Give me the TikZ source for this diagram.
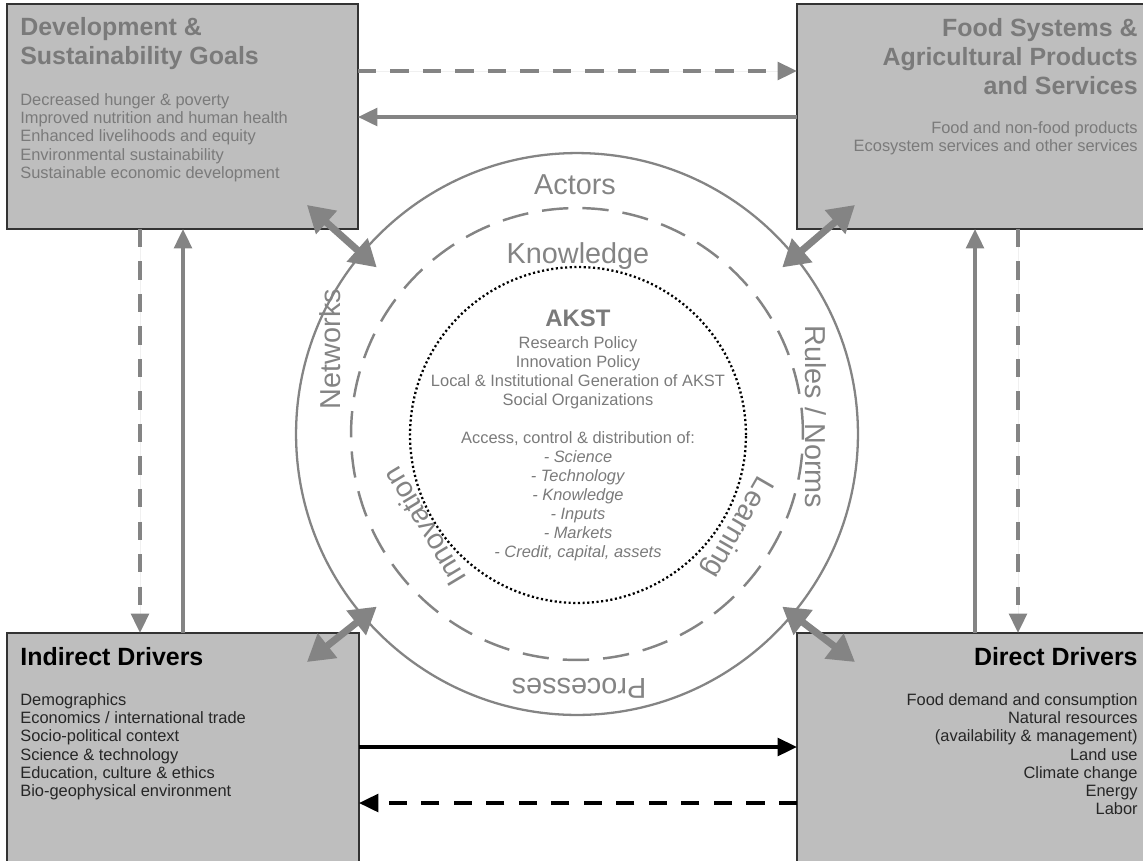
\documentclass[tikz,border=0pt]{standalone}
\usepackage{fontspec}
\setmainfont{Liberation Sans}
\usetikzlibrary{arrows.meta}

\definecolor{boxfill}{RGB}{190,190,190}
\definecolor{softgray}{RGB}{122,122,122}
\definecolor{ringgray}{RGB}{132,132,132}

\tikzset{
	area/.style={draw=black!80, line width=0.85pt, fill=boxfill, inner sep=0pt, outer sep=0pt, anchor=north west},
	areatitle/.style={inner sep=0pt, font=\bfseries\fontsize{14.2}{16.4}\selectfont},
	areatext/.style={inner sep=0pt, font=\fontsize{9.35}{10.4}\selectfont},
	ringlabel/.style={inner sep=0pt, text=ringgray, font=\fontsize{16.4}{19}\selectfont},
	coretext/.style={inner sep=0pt, text=softgray, font=\fontsize{9.35}{10.8}\selectfont, anchor=north, align=center},
	link/.style={line width=2.1pt, -{Triangle[length=11pt, width=10pt]}},
	twoway/.style={line width=4pt, draw=ringgray, {Triangle[length=15pt, width=17pt]}-{Triangle[length=15pt, width=17pt]}},
	gapdash/.style={dash pattern=on 10.5pt off 8pt},
}

\begin{document}
\begin{tikzpicture}[x=0.02cm, y=-0.02cm]
	\clip (0,0) rectangle (1143,860);

	% boxes
	\node[area, minimum width=7.02cm, minimum height=4.5cm] at (7,4) (goals) {};
	\node[area, minimum width=7.3cm, minimum height=4.5cm] at (797,4) (food) {};
	\node[area, minimum width=7.04cm, minimum height=5cm] at (7,633) (indirect) {};
	\node[area, minimum width=7.3cm, minimum height=5cm] at (797,633) (direct) {};

	\node[areatitle, text=softgray, anchor=north west, align=left] at (20,17) (goals-title) {Development \&\\Sustainability Goals};
	\node[areatext, text=softgray, anchor=north west, align=left] at (20,93) (goals-list) {Decreased hunger \& poverty\\Improved nutrition and human health\\Enhanced livelihoods and equity\\Environmental sustainability\\Sustainable economic development};

	\node[areatitle, text=softgray, anchor=north east, align=right] at (1138,18) (food-title) {Food Systems \&\\Agricultural Products\\and Services};
	\node[areatext, text=softgray, anchor=north east, align=right] at (1138,121) (food-list) {Food and non-food products\\Ecosystem services and other services};

	\node[areatitle, anchor=north west, align=left] at (20,647) (indirect-title) {Indirect Drivers};
	\node[areatext, text=black!85, anchor=north west, align=left] at (20,693) (indirect-list) {Demographics\\Economics / international trade\\Socio-political context\\Science \& technology\\Education, culture \& ethics\\Bio-geophysical environment};

	\node[areatitle, anchor=north east, align=right] at (1138,647) (direct-title) {Direct Drivers};
	\node[areatext, text=black!85, anchor=north east, align=right] at (1138,693) (direct-list) {Food demand and consumption\\Natural resources~\\(availability \& management)\\Land use\\Climate change\\Energy\\Labor};

	% rings
	\node[circle, draw=ringgray, line width=1.3pt, inner sep=0pt, outer sep=0pt, minimum size=11.24cm] at (577,434) (ring) {};
	\node[circle, draw=ringgray, line width=1.4pt, dash pattern=on 15pt off 8pt, inner sep=0pt, minimum size=9.04cm] at (577,434) (knowledge-ring) {};
	\node[circle, draw=black, line width=1.3pt, dash pattern=on 1.2pt off 1.45pt, inner sep=0pt, minimum size=6.72cm] at (578,435) (akst-ring) {};

	\node[ringlabel, anchor=base] at (575,194) (actors) {Actors};
	\node[ringlabel, anchor=base] at (578,263) (knowledge) {Knowledge};
	\node[ringlabel, rotate=90] at (330,349) (networks) {Networks};
	\node[ringlabel, rotate=-90] at (816,417) (rules) {Rules / Norms};
	\node[ringlabel, rotate=121] at (424,527) (innovation) {Innovation};
	\node[ringlabel, rotate=-120] at (737,527) (learning) {Learning};
	\node[ringlabel, rotate=180, anchor=base] at (579,678) (processes) {Processes};

	\node[inner sep=0pt, text=softgray, font=\bfseries\fontsize{13.6}{16}\selectfont, anchor=base] at (578,326) (akst) {AKST};
	\node[coretext] at (578,336) (akst-policy) {Research Policy\\Innovation Policy\\Local \& Institutional Generation of AKST\\Social Organizations};
	\node[coretext] at (578,431) (akst-access) {Access, control \& distribution of:\\\textit{- Science}\\\textit{- Technology}\\\textit{- Knowledge}\\\textit{- Inputs}\\\textit{- Markets}\\\textit{- Credit, capital, assets}};

	% flows between boxes
	\draw[link, draw=ringgray, fill=ringgray, gapdash] ([shift={(0,67)}]goals.north east) to ([shift={(0,67)}]food.north west);
	\draw[link, draw=ringgray, fill=ringgray] ([shift={(0,113)}]food.north west) to ([shift={(0,113)}]goals.north east);
	\draw[link, draw=ringgray, fill=ringgray, gapdash] ([shift={(133,0)}]goals.south west) to ([shift={(133,0)}]indirect.north west);
	\draw[link, draw=ringgray, fill=ringgray] ([shift={(176,0)}]indirect.north west) to ([shift={(176,0)}]goals.south west);
	\draw[link, draw=ringgray, fill=ringgray] ([shift={(178,0)}]direct.north west) to ([shift={(178,0)}]food.south west);
	\draw[link, draw=ringgray, fill=ringgray, gapdash] ([shift={(221,0)}]food.south west) to ([shift={(221,0)}]direct.north west);
	\draw[link] ([shift={(0,114)}]indirect.north east) to ([shift={(0,114)}]direct.north west);
	\draw[link, gapdash] ([shift={(0,170)}]direct.north west) to ([shift={(0,170)}]indirect.north east);

	% boxes and the rings
	\draw[twoway] ([shift={(-51,-24)}]goals.south east) to ([shift={(15,14)}]ring.140);
	\draw[twoway] ([shift={(58,-24)}]food.south west) to ([shift={(-10,14)}]ring.40);
	\draw[twoway] ([shift={(-52,29)}]indirect.north east) to ([shift={(15,-8)}]ring.220);
	\draw[twoway] ([shift={(58,29)}]direct.north west) to ([shift={(-10,-8)}]ring.320);
\end{tikzpicture}
\end{document}
